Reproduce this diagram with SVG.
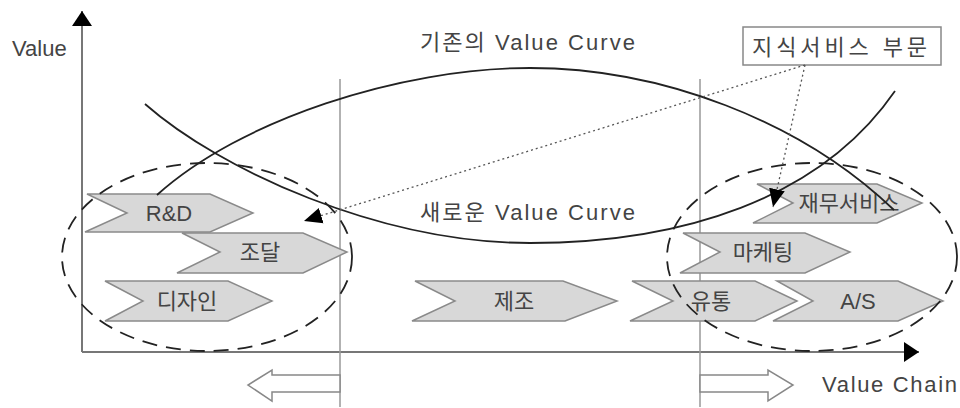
<svg xmlns="http://www.w3.org/2000/svg" width="960" height="408" viewBox="0 0 960 408">
<defs>
<style>
text{font-family:"Liberation Sans","Noto Sans CJK KR",sans-serif;font-size:22px;fill:#444;}
.chev{fill:#d8d8d8;stroke:#8a8a8a;stroke-width:1.5;}
.ct{text-anchor:middle;}
.axis{stroke:#777;stroke-width:2;fill:none;}
.vline{stroke:#999;stroke-width:1.5;fill:none;}
.curve{stroke:#222;stroke-width:1.8;fill:none;}
.dot{stroke:#555;stroke-width:1.3;stroke-dasharray:2 3;fill:none;}
.ell{stroke:#222;stroke-width:1.8;stroke-dasharray:15 9;fill:none;}
.hollow{fill:#fff;stroke:#888;stroke-width:1.5;}
</style>
<marker id="ah" viewBox="0 0 20 20" refX="18" refY="10" markerWidth="20" markerHeight="20" markerUnits="userSpaceOnUse" orient="auto">
<path d="M0,2 L18,10 L0,18 Z" fill="#000"/>
</marker>
<marker id="axh" viewBox="0 0 16 20" refX="15" refY="10" markerWidth="16" markerHeight="20" markerUnits="userSpaceOnUse" orient="auto">
<path d="M0,0 L15,10 L0,20 Z" fill="#000"/>
</marker>
</defs>
<rect width="960" height="408" fill="#fff"/>

<g id="axes">
<line class="axis" x1="82" y1="352" x2="82" y2="11" marker-end="url(#axh)"/>
<line class="axis" x1="82" y1="352" x2="919" y2="352" marker-end="url(#axh)"/>
<line class="vline" x1="340" y1="79" x2="340" y2="407"/>
<line class="vline" x1="700" y1="79" x2="700" y2="407"/>
<text x="12" y="56">Value</text>
<text x="822" y="392" textLength="135" lengthAdjust="spacing">Value Chain</text>
</g>

<g id="node-rnd"><polygon class="chev" points="87,194 210,194 253,213 210,232 85,232 127,213"/><text class="ct" x="169" y="221">R&amp;D</text></g>
<g id="node-jodal"><polygon class="chev" points="182,233 303,233 347,252 303,273 177,273 220,252"/><text class="ct" x="260" y="260">조달</text></g>
<g id="node-design"><polygon class="chev" points="105,281 228,281 272,301 228,321 105,321 143,301"/><text class="ct" x="187" y="309">디자인</text></g>
<g id="node-jejo"><polygon class="chev" points="415,281 563,281 617,301 565,321 412,321 455,301"/><text class="ct" x="514" y="309">제조</text></g>
<g id="node-yutong"><polygon class="chev" points="632,281 755,281 797,301 755,321 630,321 673,301"/><text class="ct" x="711" y="309">유통</text></g>
<g id="node-as"><polygon class="chev" points="777,281 898,281 943,301 898,321 773,321 813,301"/><text class="ct" x="858" y="309">A/S</text></g>
<g id="node-marketing"><polygon class="chev" points="683,233 805,233 850,252 805,273 680,273 720,252"/><text class="ct" x="763" y="260">마케팅</text></g>
<g id="node-finance"><polygon class="chev" points="757,184 877,184 922,203 877,223 753,223 793,203"/><text class="ct" x="849" y="211">재무서비스</text></g>

<g id="curves">
<path class="curve" d="M157,195 C240,120 400,68 530,68 C660,68 800,120 894,210"/>
<path class="curve" d="M145,104 C220,170 380,243 530,243 C680,243 820,200 895,91"/>
<text x="420" y="50" textLength="215" lengthAdjust="spacing">기존의 Value Curve</text>
<text x="420" y="220" textLength="215" lengthAdjust="spacing">새로운 Value Curve</text>
</g>

<g id="groups">
<ellipse class="ell" cx="207" cy="257" rx="145" ry="94"/>
<ellipse class="ell" cx="812" cy="257" rx="145" ry="94"/>
</g>

<g id="node-knowledge">
<rect x="743" y="27" width="198" height="38" fill="#fff" stroke="#888" stroke-width="1.5"/>
<text x="752" y="55" textLength="175" lengthAdjust="spacing">지식서비스 부문</text>
</g>

<g id="connectors">
<line class="dot" x1="805" y1="65" x2="304" y2="221" marker-end="url(#ah)"/>
<line class="dot" x1="805" y1="65" x2="773" y2="207" marker-end="url(#ah)"/>
<polygon class="hollow" points="340,375 272,375 272,370 248,385 272,401 272,392 340,392"/>
<polygon class="hollow" points="700,375 768,375 768,370 793,385 768,401 768,392 700,392"/>
</g>
</svg>
